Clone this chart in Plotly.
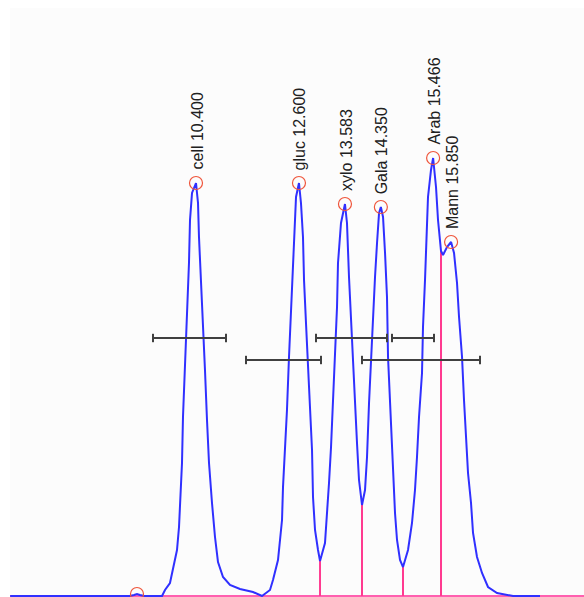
import plotly.graph_objects as go

# Chromatogram trace: retention time (min) and detector signal
time = [6.43, 8.990, 9.076, 9.139, 9.203, 9.289, 9.674, 9.738, 9.844, 9.909, 9.994,
        10.037, 10.101, 10.122, 10.165, 10.208, 10.250, 10.272, 10.315, 10.400,
        10.443, 10.464, 10.507, 10.550, 10.592, 10.635, 10.678, 10.742, 10.806,
        10.870, 10.977, 11.126, 11.340, 11.618, 11.810, 11.981, 12.045, 12.152,
        12.238, 12.259, 12.302, 12.344, 12.387, 12.430, 12.473, 12.494, 12.537,
        12.600, 12.643, 12.686, 12.708, 12.750, 12.793, 12.836, 12.879, 12.900,
        12.943, 13.007, 13.050, 13.156, 13.199, 13.242, 13.285, 13.327, 13.370,
        13.413, 13.434, 13.498, 13.583, 13.626, 13.669, 13.712, 13.755, 13.797,
        13.840, 13.883, 13.947, 14.011, 14.054, 14.097, 14.139, 14.182, 14.225,
        14.268, 14.311, 14.350, 14.396, 14.439, 14.481, 14.503, 14.545, 14.588,
        14.609, 14.652, 14.695, 14.759, 14.823, 14.930, 15.015, 15.079, 15.122,
        15.165, 15.229, 15.250, 15.293, 15.336, 15.357, 15.421, 15.466, 15.528,
        15.571, 15.635, 15.678, 15.763, 15.850, 15.913, 15.977, 16.020, 16.084,
        16.126, 16.169, 16.212, 16.276, 16.319, 16.404, 16.511, 16.639, 16.832,
        17.174, 17.750]
signal = [0, 0, 1, 2, 1, 0, 0, 6, 13, 26, 46,
          69, 133, 179, 229, 283, 333, 376, 403, 413,
          393, 359, 319, 273, 226, 176, 133, 93, 59,
          34, 19, 11, 7, 4, 0, 6, 16, 36,
          76, 109, 143, 186, 239, 286, 329, 369, 399,
          413, 393, 359, 316, 273, 226, 186, 146, 99,
          66, 46, 35, 53, 79, 113, 149, 193, 249,
          289, 333, 373, 392, 373, 319, 276, 223, 186,
          153, 116, 91, 106, 139, 193, 239, 279, 319,
          353, 383, 389, 379, 343, 299, 239, 193, 153,
          116, 83, 56, 36, 29, 46, 73, 106, 139,
          179, 223, 269, 316, 363, 399, 426, 438, 409,
          376, 345, 341, 349, 354, 343, 313, 279, 239,
          196, 156, 123, 93, 63, 39, 23, 9, 3,
          0, 0]

# Identified peaks
peak_names = ["cell", "gluc", "xylo", "Gala", "Arab", "Mann"]
peak_times = [10.400, 12.600, 13.583, 14.350, 15.466, 15.850]
peak_heights = [413, 413, 392, 389, 438, 354]
minor_peak_time = [9.139]
minor_peak_height = [2]

# Valley drop lines (time, signal at valley)
drop_times = [13.050, 13.947, 14.823, 15.635]
drop_heights = [35, 91, 29, 345]

# Peak-width bars: left time, right time, level
bar_left = [9.481, 11.468, 12.964, 14.588, 13.947]
bar_right = [11.041, 13.071, 14.481, 15.485, 16.468]
bar_level = [258, 236, 258, 258, 236]

x_range = [6.426, 18.69]

fig = go.Figure()

# baseline
fig.add_trace(go.Scatter(x=x_range, y=[0, 0], mode="lines",
                         line=dict(color="#ff5fb0", width=2), hoverinfo="skip"))

# drop lines
for t, h in zip(drop_times, drop_heights):
    fig.add_trace(go.Scatter(x=[t, t], y=[0, h], mode="lines",
                             line=dict(color="#ff3a90", width=2), hoverinfo="skip"))

# chromatogram
fig.add_trace(go.Scatter(x=time, y=signal, mode="lines",
                         line=dict(color="#3030ff", width=2)))

# width bars
for l, r, lv in zip(bar_left, bar_right, bar_level):
    fig.add_trace(go.Scatter(x=[l, r], y=[lv, lv], mode="lines+markers",
                             line=dict(color="#404040", width=2),
                             marker=dict(symbol="line-ns-open", size=6,
                                         line=dict(color="#202020", width=2)),
                             hoverinfo="skip"))

# peak circles
fig.add_trace(go.Scatter(x=peak_times + minor_peak_time,
                         y=peak_heights + minor_peak_height, mode="markers",
                         marker=dict(symbol="circle-open", size=13,
                                     line=dict(color="#ff2020", width=1.2))))

for n, t, h in zip(peak_names, peak_times, peak_heights):
    fig.add_annotation(x=t, y=h, text=f"{n} {t:.3f}", textangle=-90,
                       showarrow=False, xanchor="center", yanchor="bottom",
                       yshift=11, xshift=1,
                       font=dict(family="Liberation Sans, Arial", size=16,
                                 color="#202020"))

fig.update_layout(
    width=584, height=597,
    margin=dict(l=10, r=0, t=8, b=0),
    paper_bgcolor="#ffffff", plot_bgcolor="#fcfcfc",
    showlegend=False,
    xaxis=dict(range=x_range, visible=False, fixedrange=True),
    yaxis=dict(range=[-1, 588], visible=False, fixedrange=True),
)

fig.write_html("out.html")
